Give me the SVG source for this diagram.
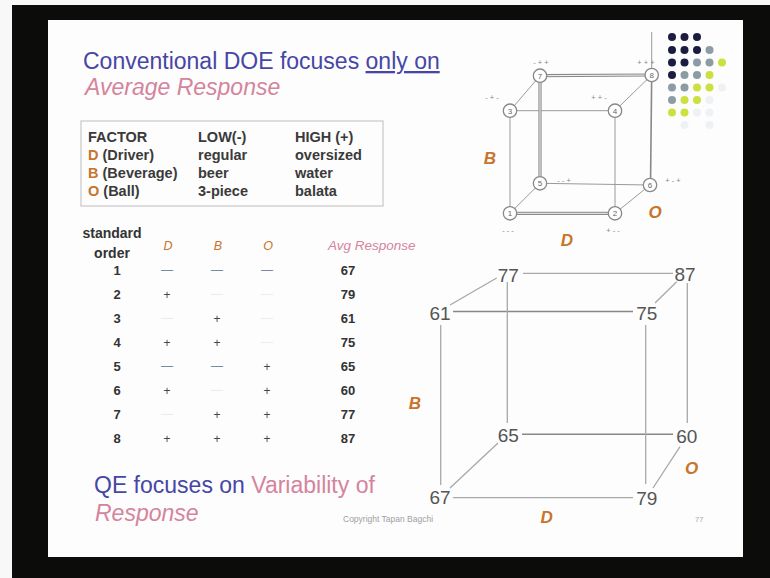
<svg xmlns="http://www.w3.org/2000/svg" width="770" height="578" viewBox="0 0 770 578">
  <style>
    .sans { font-family: "Liberation Sans", Arial, sans-serif; }
    .title { font-size: 23px; fill: #4646a6; }
    .pink { fill: #d4849c; }
    .fac { font-size: 14.5px; font-weight: bold; fill: #3a3a3a; }
    .org { fill: #c8742c; }
    .hdr { font-size: 14px; font-weight: bold; fill: #333; }
    .cell { font-size: 13px; font-weight: bold; fill: #333; text-anchor: middle; }
    .sign { font-size: 12px; fill: #444; text-anchor: middle; }
    .faint { fill: #ececf0; }
    .minus { fill: #7888a8; }
    .axis { font-size: 17px; font-weight: bold; font-style: italic; fill: #c8742c; text-anchor: middle; }
    .colhd { font-size: 12.5px; font-style: italic; fill: #c8742c; text-anchor: middle; }
    .big { font-size: 19px; fill: #555; text-anchor: middle; }
    .edge { stroke: #a8a8a8; stroke-width: 1.3; fill: none; }
    .edge2 { stroke: #888; stroke-width: 1.6; fill: none; }
    .sedge { stroke: #9a9a9a; stroke-width: 1; fill: none; }
    .thick { stroke: #8a8a8a; stroke-width: 3.2; fill: none; }
    .thickin { stroke: #f4f4f4; stroke-width: 1; fill: none; }
    .node circle { fill: #fff; stroke: #888; stroke-width: 1.3; }
    .node text { font-size: 8px; fill: #666; text-anchor: middle; }
    .lvl { font-size: 7.5px; fill: #888; text-anchor: middle; }
  </style>

  <!-- frame -->
  <rect x="0" y="0" width="770" height="578" fill="#f8f8f8"/>
  <rect x="12" y="5" width="758" height="573" fill="#0c0c0a"/>
  <rect x="48" y="20" width="695" height="537" fill="#fdfdfd"/>

  <!-- decorative dot grid -->
  <g id="dots">
    <g fill="#1c1c40">
      <circle cx="672" cy="37" r="4"/><circle cx="684.5" cy="37" r="4"/><circle cx="697" cy="37" r="4"/>
      <circle cx="672" cy="50" r="4"/><circle cx="684.5" cy="50" r="4"/><circle cx="697" cy="50" r="4"/>
      <circle cx="672" cy="62.5" r="4"/><circle cx="684.5" cy="62.5" r="4"/>
      <circle cx="672" cy="75" r="4"/>
    </g>
    <g fill="#8c9ca4">
      <circle cx="709.5" cy="50" r="4"/>
      <circle cx="697" cy="62.5" r="4"/><circle cx="709.5" cy="62.5" r="4"/>
      <circle cx="684.5" cy="75" r="4"/><circle cx="697" cy="75" r="4"/>
      <circle cx="672" cy="87.5" r="4"/><circle cx="684.5" cy="87.5" r="4"/>
      <circle cx="672" cy="100" r="4"/>
    </g>
    <g fill="#cce040">
      <circle cx="722" cy="62.5" r="4"/>
      <circle cx="709.5" cy="75" r="4"/>
      <circle cx="697" cy="87.5" r="4"/><circle cx="709.5" cy="87.5" r="4"/>
      <circle cx="684.5" cy="100" r="4"/><circle cx="697" cy="100" r="4"/>
      <circle cx="672" cy="112.5" r="4"/><circle cx="684.5" cy="112.5" r="4"/>
    </g>
    <g fill="#eef2f4">
      <circle cx="722" cy="87.5" r="4"/>
      <circle cx="709.5" cy="100" r="4"/>
      <circle cx="697" cy="112.5" r="4"/><circle cx="709.5" cy="112.5" r="4"/>
      <circle cx="684.5" cy="125" r="4"/><circle cx="709.5" cy="125" r="4"/>
    </g>
  </g>

  <!-- heading -->
  <g id="heading" class="sans">
    <text x="83" y="69" class="title">Conventional DOE focuses <tspan text-decoration="underline">only on</tspan></text>
    <text x="85" y="95" class="title pink" font-style="italic">Average Response</text>
  </g>

  <!-- factor table -->
  <g id="factors" class="sans">
    <rect x="81" y="121" width="302" height="85" fill="none" stroke="#c8c8c8" stroke-width="1.2"/>
    <text class="fac" x="88" y="142">FACTOR</text>
    <text class="fac" x="198" y="142">LOW(-)</text>
    <text class="fac" x="295" y="142">HIGH (+)</text>
    <text class="fac" x="88" y="160"><tspan class="org">D</tspan> (Driver)</text>
    <text class="fac" x="198" y="160">regular</text>
    <text class="fac" x="295" y="160">oversized</text>
    <text class="fac" x="88" y="178"><tspan class="org">B</tspan> (Beverage)</text>
    <text class="fac" x="198" y="178">beer</text>
    <text class="fac" x="295" y="178">water</text>
    <text class="fac" x="88" y="196"><tspan class="org">O</tspan> (Ball)</text>
    <text class="fac" x="198" y="196">3-piece</text>
    <text class="fac" x="295" y="196">balata</text>
  </g>

  <!-- design matrix -->
  <g id="matrix" class="sans">
    <text class="hdr" x="112" y="238" text-anchor="middle">standard</text>
    <text class="hdr" x="112" y="258" text-anchor="middle">order</text>
    <text class="colhd" x="168" y="250">D</text>
    <text class="colhd" x="218" y="250">B</text>
    <text class="colhd" x="268" y="250">O</text>
    <text x="328" y="250" font-size="13.5" font-style="italic" class="pink">Avg Response</text>

    <g class="cell">
      <text x="117" y="275">1</text><text x="117" y="299">2</text><text x="117" y="323">3</text><text x="117" y="347">4</text>
      <text x="117" y="371">5</text><text x="117" y="395">6</text><text x="117" y="419">7</text><text x="117" y="443">8</text>
      <text x="348" y="275">67</text><text x="348" y="299">79</text><text x="348" y="323">61</text><text x="348" y="347">75</text>
      <text x="348" y="371">65</text><text x="348" y="395">60</text><text x="348" y="419">77</text><text x="348" y="443">87</text>
    </g>
    <g class="sign">
      <text class="minus" x="167" y="274">—</text><text class="minus" x="217" y="274">—</text><text class="minus" x="267" y="274">—</text>
      <text x="167" y="299">+</text><text class="faint" x="217" y="298">—</text><text class="faint" x="267" y="298">—</text>
      <text class="faint" x="167" y="322">—</text><text x="217" y="323">+</text><text class="faint" x="267" y="322">—</text>
      <text x="167" y="347">+</text><text x="217" y="347">+</text><text class="faint" x="267" y="346">—</text>
      <text class="minus" x="167" y="370">—</text><text class="minus" x="217" y="370">—</text><text x="267" y="371">+</text>
      <text x="167" y="395">+</text><text class="faint" x="217" y="394">—</text><text x="267" y="395">+</text>
      <text class="faint" x="167" y="418">—</text><text x="217" y="419">+</text><text x="267" y="419">+</text>
      <text x="167" y="443">+</text><text x="217" y="443">+</text><text x="267" y="443">+</text>
    </g>
  </g>

  <!-- footer text -->
  <g id="footer" class="sans">
    <text x="94" y="493" class="title">QE focuses on <tspan class="pink">Variability of</tspan></text>
    <text x="95" y="521" class="title pink" font-style="italic">Response</text>
    <text x="343" y="522" font-size="8.5" fill="#a0a0a0">Copyright Tapan Bagchi</text>
    <text x="695" y="522" font-size="7.5" fill="#aaa">77</text>
  </g>

  <!-- small cube: edges -->
  <g id="cube-edges">
    <line class="sedge" x1="510" y1="110.7" x2="615" y2="110.7"/>
    <line class="sedge" x1="510" y1="110.7" x2="510" y2="213.3"/>
    <line class="sedge" x1="615" y1="110.7" x2="615" y2="213.3"/>
    <line class="sedge" x1="540" y1="183.3" x2="650" y2="185"/>
    <line class="sedge" x1="540" y1="75.7" x2="510" y2="110.7"/>
    <line class="sedge" x1="651.7" y1="75" x2="615" y2="110.7"/>
    <line class="sedge" x1="540" y1="183.3" x2="510" y2="213.3"/>
    <line class="sedge" x1="650" y1="185" x2="615" y2="213.3"/>
    <line class="sedge" x1="651.7" y1="32" x2="651.7" y2="75"/>
    <line class="thick" x1="540" y1="75.7" x2="651.7" y2="75"/>
    <line class="thickin" x1="540" y1="75.7" x2="651.7" y2="75"/>
    <line class="thick" x1="540" y1="75.7" x2="540" y2="183.3"/>
    <line class="thickin" x1="540" y1="75.7" x2="540" y2="183.3"/>
    <line class="thick" x1="510" y1="213.3" x2="615" y2="213.3"/>
    <line class="thickin" x1="510" y1="213.3" x2="615" y2="213.3"/>
    <line class="edge2" x1="651.7" y1="75" x2="650.5" y2="185"/>
  </g>

  <!-- small cube: runs -->
  <g id="run7" class="node sans"><circle cx="540" cy="75.7" r="6.7"/><text x="540" y="78.5">7</text></g>
  <g id="run8" class="node sans"><circle cx="651.7" cy="75" r="6.7"/><text x="651.7" y="77.8">8</text></g>
  <g id="run3" class="node sans"><circle cx="510" cy="110.7" r="6.7"/><text x="510" y="113.5">3</text></g>
  <g id="run4" class="node sans"><circle cx="615" cy="110.7" r="6.7"/><text x="615" y="113.5">4</text></g>
  <g id="run5" class="node sans"><circle cx="540" cy="183.3" r="6.7"/><text x="540" y="186.1">5</text></g>
  <g id="run6" class="node sans"><circle cx="650" cy="185" r="6.7"/><text x="650" y="187.8">6</text></g>
  <g id="run1" class="node sans"><circle cx="510" cy="213.3" r="6.7"/><text x="510" y="216.1">1</text></g>
  <g id="run2" class="node sans"><circle cx="615" cy="213.3" r="6.7"/><text x="615" y="216.1">2</text></g>

  <!-- small cube: level labels and axes -->
  <g id="cube-labels" class="sans">
    <text class="lvl" x="541" y="65">- + +</text>
    <text class="lvl" x="646" y="65">+ + +</text>
    <text class="lvl" x="492" y="100">- + -</text>
    <text class="lvl" x="599" y="100">+ + -</text>
    <text class="lvl" x="564" y="183">- - +</text>
    <text class="lvl" x="673" y="183">+ - +</text>
    <text class="lvl" x="508" y="233">- - -</text>
    <text class="lvl" x="613" y="233">+ - -</text>
    <text class="axis" x="490" y="164">B</text>
    <text class="axis" x="655" y="218">O</text>
    <text class="axis" x="567" y="246">D</text>
  </g>

  <!-- response cube: edges -->
  <g id="response-edges">
    <line class="edge" x1="523" y1="273.3" x2="673" y2="273.3"/>
    <line class="edge2" x1="453" y1="311.5" x2="633" y2="311.5"/>
    <line class="edge2" x1="522" y1="434.3" x2="673" y2="434.3"/>
    <line class="edge" x1="453" y1="497.7" x2="633" y2="497.7"/>
    <line class="edge" x1="440.7" y1="325" x2="440.7" y2="485"/>
    <line class="edge" x1="507.3" y1="282" x2="507.3" y2="423"/>
    <line class="edge" x1="645.7" y1="325" x2="645.7" y2="484"/>
    <line class="edge" x1="687.3" y1="283" x2="687.3" y2="423"/>
    <line class="edge" x1="450" y1="305" x2="496.7" y2="278"/>
    <line class="edge" x1="655" y1="303" x2="676.7" y2="281.7"/>
    <line class="edge" x1="450" y1="488" x2="498" y2="443"/>
    <line class="edge" x1="653" y1="488" x2="680" y2="446.7"/>
  </g>

  <!-- response cube: averages -->
  <g id="avg77" class="sans"><text class="big" x="508.3" y="282">77</text></g>
  <g id="avg87" class="sans"><text class="big" x="685" y="281">87</text></g>
  <g id="avg61" class="sans"><text class="big" x="440" y="320">61</text></g>
  <g id="avg75" class="sans"><text class="big" x="646.7" y="320">75</text></g>
  <g id="avg65" class="sans"><text class="big" x="508.3" y="442">65</text></g>
  <g id="avg60" class="sans"><text class="big" x="686.7" y="442.5">60</text></g>
  <g id="avg67" class="sans"><text class="big" x="440" y="504">67</text></g>
  <g id="avg79" class="sans"><text class="big" x="646.7" y="505">79</text></g>

  <g id="response-axes" class="sans">
    <text class="axis" x="415" y="409">B</text>
    <text class="axis" x="691.7" y="474">O</text>
    <text class="axis" x="546.7" y="523">D</text>
  </g>
</svg>
